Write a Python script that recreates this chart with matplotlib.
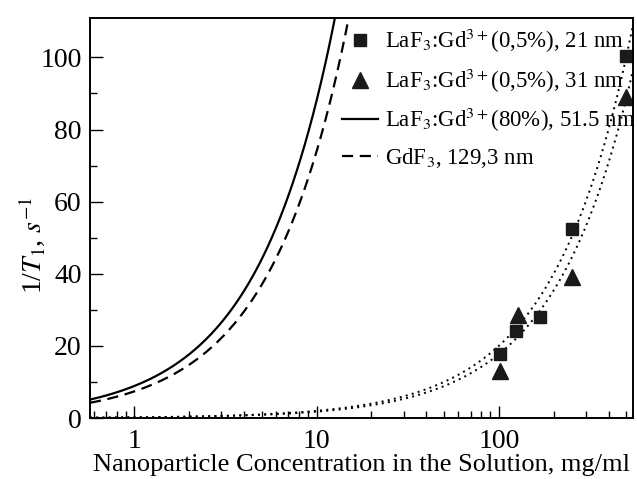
import numpy as np
import matplotlib
matplotlib.use("Agg")
import matplotlib.pyplot as plt
from matplotlib.ticker import FixedLocator, NullFormatter

plt.rcParams['font.family'] = ['Liberation Serif', 'DejaVu Serif']
plt.rcParams['mathtext.fontset'] = 'stix'

# measured points: concentration (mg/ml) and 1/T1 (s^-1)
conc_21nm = [101, 125, 168, 251, 500]
rate_21nm = [17.8, 24.0, 28.0, 52.5, 100.5]
conc_31nm = [101, 127, 251, 500]
rate_31nm = [13.0, 28.5, 39.0, 89.0]

# linear fits 1/T1 = a + b*C (slopes)
fit_21nm = (0.0, 0.20)
fit_31nm = (0.0, 0.177)
fit_80pc = (0.1, 8.8)
fit_gdf3 = (0.0, 7.4)

labels = [r'LaF$_3$:Gd$^{3+}$(0,5%), 21 nm',
          r'LaF$_3$:Gd$^{3+}$(0,5%), 31 nm',
          r'LaF$_3$:Gd$^{3+}$(80%), 51.5 nm',
          r'GdF$_3$, 129,3 nm']

xlim = (0.57, 545)
ylim = (0, 111)

fig = plt.figure(figsize=(6.37, 4.79), dpi=100)
ax = fig.add_axes([0.1413, 0.1273, 0.8524, 0.8357])

c = np.logspace(np.log10(xlim[0]), np.log10(xlim[1]), 400)

ax.plot(c, fit_21nm[0] + fit_21nm[1] * c, color='k', ls=(0, (1, 2.2)), lw=1.4)
ax.plot(c, fit_31nm[0] + fit_31nm[1] * c, color='k', ls=(0, (1, 2.2)), lw=1.4)
l1, = ax.plot(c, fit_80pc[0] + fit_80pc[1] * c, color='k', lw=1.6)
l2, = ax.plot(c, fit_gdf3[0] + fit_gdf3[1] * c, color='k', lw=1.6, ls=(0, (5, 3)))
s1, = ax.plot(conc_21nm, rate_21nm, 's', color='#1a1a1a', ms=9, ls='none')
s2, = ax.plot(conc_31nm, rate_31nm, '^', color='#1a1a1a', ms=12, ls='none')

ax.set_xscale('log')
ax.set_xlim(*xlim)
ax.set_ylim(*ylim)

ax.set_xticks([1, 10, 100])
ax.set_xticklabels(['1', '10', '100'])
ax.xaxis.set_minor_locator(FixedLocator(
    [m * 10.0 ** e for e in range(-1, 3) for m in range(2, 10)]))
ax.xaxis.set_minor_formatter(NullFormatter())
ax.set_yticks([0, 20, 40, 60, 80, 100])
ax.set_yticks([10, 30, 50, 70, 90], minor=True)

ax.tick_params(which='both', direction='in', labelsize=20, width=1, pad=6)
ax.tick_params(axis='x', pad=8)
ax.tick_params(which='major', length=9)
ax.tick_params(which='minor', length=5)
for sp in ax.spines.values():
    sp.set_linewidth(1.4)

ax.set_xlabel('Nanoparticle Concentration in the Solution, mg/ml',
              fontsize=19, labelpad=0)
ax.set_ylabel(r'1/$T_1$, $s^{-1}$', fontsize=20)
ax.yaxis.set_label_coords(-0.08, 0.43)

ax.legend([s1, s2, l1, l2], labels, loc='upper right', frameon=False,
          fontsize=16.5, handlelength=1.6, handletextpad=0.3, labelspacing=0.5,
          borderaxespad=0.0, bbox_to_anchor=(1.022, 1.0))

fig.savefig('out.png', dpi=100)
